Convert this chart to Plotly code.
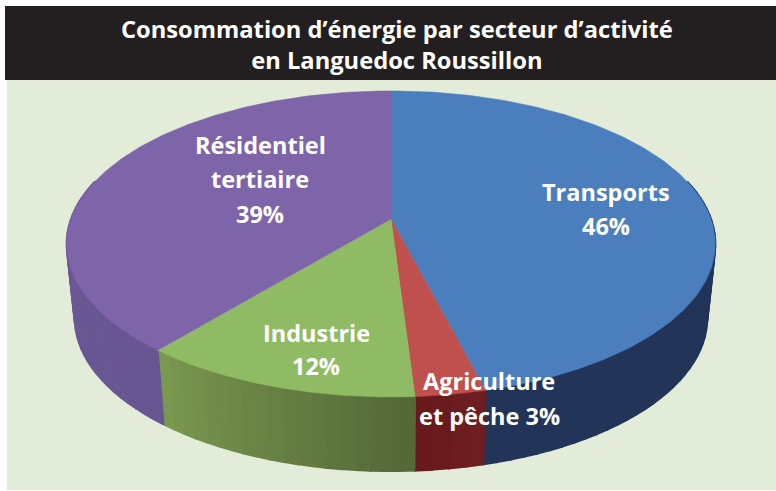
import numpy as np
import plotly.graph_objects as go

# Data
categories = ["Transports", "Agriculture et pêche", "Industrie", "Résidentiel tertiaire"]
values = [46, 3, 12, 39]
label_lines = [["Transports", "46%"], ["Agriculture", "et pêche 3%"], ["Industrie", "12%"], ["Résidentiel", "tertiaire", "39%"]]
title_text = "Consommation d’énergie par secteur d’activité<br>en Languedoc Roussillon"

# Styles
top_colors = ["#4a7ebd", "#c0504d", "#8ebb63", "#7e64a8"]
wall_light = [(34, 52, 88), (110, 30, 32), (122, 152, 80), (112, 92, 156)]
wall_dark = [(34, 52, 88), (104, 26, 28), (84, 104, 56), (104, 86, 146)]
label_x = [606, 489, 316, 260]
label_y = [[192, 226], [381, 416], [333, 366], [145, 179, 214]]
FONT = "Open Sans"
TITLE_SIZE, LABEL_SIZE = 23.7, 23.5

W, H = 776, 491
CX, CY, A, B, K = 391, 219, 320, 149, 0.163
DEPTH, BOTTOM_SCALE = 74, 0.975


def project(turn, scale=1.0, dy=0.0):
    """Perspective projection of a clockwise-from-top pie angle (in turns)."""
    t = 2 * np.pi * np.asarray(turn)
    u, v = np.sin(t), -np.cos(t)
    w = 1 - K * v
    return CX + scale * A * u / w, CY + dy + B * v / w


fig = go.Figure()
edges = np.concatenate([[0], np.cumsum(values)]) / sum(values)

# Side walls, as narrow shaded strips
for i in range(len(values)):
    a0, a1 = edges[i], edges[i + 1]
    n = max(2, int((a1 - a0) * 160))
    cuts = np.linspace(a0, a1, n + 1)
    for j in range(n):
        if -np.cos(np.pi * (cuts[j] + cuts[j + 1])) < -0.25:
            continue
        f = j / max(1, n - 1)
        if i >= 2:
            f = 1 - f
        c = [round(l + (d - l) * f) for l, d in zip(wall_light[i], wall_dark[i])]
        col = f"rgb({c[0]},{c[1]},{c[2]})"
        seg = np.linspace(cuts[j], cuts[j + 1], 4)
        xt, yt = project(seg)
        xb, yb = project(seg[::-1], BOTTOM_SCALE, DEPTH)
        fig.add_trace(go.Scatter(
            x=np.r_[xt, xb, xt[0]], y=np.r_[yt, yb, yt[0]], mode="lines",
            fill="toself", fillcolor=col, line=dict(color=col, width=2),
            hoverinfo="skip", showlegend=False))

# Top face wedges
for i, name in enumerate(categories):
    seg = np.linspace(edges[i], edges[i + 1], 160)
    x, y = project(seg)
    fig.add_trace(go.Scatter(
        x=np.r_[CX, x, CX], y=np.r_[CY, y, CY], mode="lines", name=name,
        fill="toself", fillcolor=top_colors[i], line=dict(color=top_colors[i], width=0.5),
        showlegend=False))

title_font = dict(size=TITLE_SIZE, color="white", family=FONT, weight=700)
label_font = dict(size=LABEL_SIZE, color="white", family=FONT, weight=700)
annotations = [dict(x=397, y=44, text=title_text, font=title_font)]
for px, ys, lines in zip(label_x, label_y, label_lines):
    for py, text in zip(ys, lines):
        annotations.append(dict(x=px, y=py, text=text, font=label_font))
for a in annotations:
    a.update(xref="x", yref="y", showarrow=False, align="center", xanchor="center", yanchor="middle")

fig.update_layout(
    width=W, height=H, margin=dict(l=0, r=0, t=0, b=0), paper_bgcolor="white", plot_bgcolor="white",
    xaxis=dict(range=[0, W], visible=False, fixedrange=True),
    yaxis=dict(range=[H, 0], visible=False, fixedrange=True),
    shapes=[
        dict(type="rect", xref="x", yref="y", x0=7, x1=W, y0=79, y1=490, fillcolor="#e2ecd9", line_width=0, layer="below"),
        dict(type="rect", xref="x", yref="y", x0=5, x1=W, y0=6, y1=80, fillcolor="#231f20", line_width=0, layer="below"),
    ],
    annotations=annotations,
)
fig.write_html("out.html", config={"displayModeBar": False}, post_script="document.body.style.margin='0';")
